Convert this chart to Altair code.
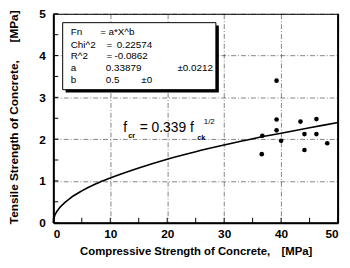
import altair as alt
import pandas as pd

# measured data points (compressive, tensile) in MPa
pts_x = [39.2, 43.4, 46.2, 36.7, 39.2, 44.1, 46.2, 40.0, 48.1, 36.6, 44.1, 39.2]
pts_y = [2.47, 2.42, 2.48, 2.08, 2.21, 2.12, 2.12, 1.96, 1.90, 1.64, 1.74, 3.40]

# fitted curve
curve_x = [0, 0.25, 0.5, 1, 2, 3, 5, 7.5, 10, 15, 20, 25, 30, 35, 40, 45, 50]
curve_y = [0, 0.17, 0.24, 0.34, 0.48, 0.59, 0.76, 0.93, 1.07, 1.31, 1.52, 1.70, 1.86, 2.01, 2.14, 2.27, 2.40]

# fit statistics box
box_labels = ["Fn", "Chi^2", "R^2", "a", "b"]
box_eq = ["=", "=", "=", "", ""]
box_values = ["a*X^b", "0.22574", "-0.0862", "0.33879", "0.5"]
box_errors = ["", "", "", "\u00b10.0212", "\u00b10"]

x_grid = [0, 5, 10, 15, 20, 25, 30, 35, 40, 45, 50]
y_grid = [0, 0.5, 1, 1.5, 2, 2.5, 3, 3.5, 4, 4.5, 5]

W, H = 289, 212
FONT = "Liberation Sans"

pts = pd.DataFrame({"x": pts_x, "y": pts_y})
curve = pd.DataFrame({"x": curve_x, "y": curve_y})
xs = alt.Scale(domain=[0, 50], nice=False)
ys = alt.Scale(domain=[0, 5], nice=False)

grid_kw = dict(grid=True, gridDash=[5, 2, 1, 2], gridColor="#000", gridOpacity=0.7, gridWidth=0.7,
               ticks=False, domainWidth=2, domainColor="#000",
               labelFont=FONT, labelFontSize=12, labelFontWeight="bold", labelColor="#000",
               titleFont=FONT, titleFontWeight="bold", titleColor="#000", titleBaseline="middle")

base_x = alt.X("x:Q", scale=xs, axis=alt.Axis(
    values=x_grid, title="Compressive Strength of Concrete,\u2002\u2002[MPa]",
    labelExpr="datum.value % 10 == 0 ? datum.label : ''",
    labelPadding=6, titleFontSize=11.5, titleY=29, **grid_kw))
base_y = alt.Y("y:Q", scale=ys, axis=alt.Axis(
    values=y_grid, title="Tensile Strength of Concrete,\u2002\u2002\u2002[MPa]",
    labelExpr="datum.value % 1 == 0 ? datum.label : ''",
    labelPadding=8, titleFontSize=12, titleX=-40, titleY=104.5, **grid_kw))

line = alt.Chart(curve).mark_line(color="#000", strokeWidth=1.6, interpolate="monotone").encode(x=base_x, y=base_y)
dots = alt.Chart(pts).mark_circle(color="#000", size=22, opacity=1).encode(x="x:Q", y="y:Q")

xt = pd.DataFrame({"x": x_grid})
yt = pd.DataFrame({"y": y_grid})
xticks = alt.Chart(xt).mark_rule(color="#000", strokeWidth=1).encode(
    x="x:Q", y=alt.value(H), y2=alt.value(H - 5))
yticks = alt.Chart(yt).mark_rule(color="#000", strokeWidth=1).encode(
    y="y:Q", x=alt.value(0), x2=alt.value(5))
right_edge = alt.Chart(pd.DataFrame({"x": [50]})).mark_rule(color="#000", strokeWidth=2).encode(
    x="x:Q", y=alt.value(0), y2=alt.value(H))

one = pd.DataFrame({"k": [0]})
shadow = alt.Chart(one).mark_rect(color="#000").encode(
    x=alt.value(12.5), x2=alt.value(168), y=alt.value(12), y2=alt.value(80))
box = alt.Chart(one).mark_rect(fill="#fff", stroke="#000", strokeWidth=1).encode(
    x=alt.value(9.5), x2=alt.value(165), y=alt.value(9), y2=alt.value(77))

rows = [18.7, 31.3, 43, 55.3, 67.3]
eq_x = [47.7, 54, 54, 0, 0]
val_x = [56, 64.3, 62, 53.3, 53.3]
err_x = [0, 0, 0, 126, 89.3]
tx = dict(font=FONT, fontSize=10, color="#000", baseline="middle", align="left")
box_txt = []
for i in range(5):
    items = [(box_labels[i], 17.7), (box_eq[i], eq_x[i]), (box_values[i], val_x[i]), (box_errors[i], err_x[i])]
    for t, px in items:
        if t:
            box_txt.append(alt.Chart(pd.DataFrame({"t": [t]})).mark_text(**tx).encode(
                text="t:N", x=alt.value(px), y=alt.value(rows[i])))

fy = 116.3
ft = dict(font=FONT, color="#000", baseline="middle", align="left")
formula = [
    alt.Chart(pd.DataFrame({"t": ["f"]})).mark_text(fontSize=14, **ft).encode(text="t:N", x=alt.value(71), y=alt.value(fy)),
    alt.Chart(pd.DataFrame({"t": ["cr"]})).mark_text(fontSize=7.5, fontWeight="bold", **ft).encode(text="t:N", x=alt.value(76), y=alt.value(fy + 8)),
    alt.Chart(pd.DataFrame({"t": ["= 0.339 f"]})).mark_text(fontSize=14, **ft).encode(text="t:N", x=alt.value(87.7), y=alt.value(fy)),
    alt.Chart(pd.DataFrame({"t": ["ck"]})).mark_text(fontSize=7.5, fontWeight="bold", **ft).encode(text="t:N", x=alt.value(146), y=alt.value(fy + 9.5)),
    alt.Chart(pd.DataFrame({"t": ["1/2"]})).mark_text(fontSize=8, **ft).encode(text="t:N", x=alt.value(152.7), y=alt.value(fy - 6.5)),
]

chart = alt.layer(line, dots, xticks, yticks, right_edge, shadow, box, *box_txt, *formula).properties(
    width=W, height=H,
    autosize=alt.AutoSizeParams(type="none"),
    padding={"left": 46, "top": 4, "right": 4, "bottom": 36},
    background="#fff",
).configure_view(stroke="#000", strokeWidth=1)

chart.save("out.html", embed_options={"renderer": "svg", "actions": False})
